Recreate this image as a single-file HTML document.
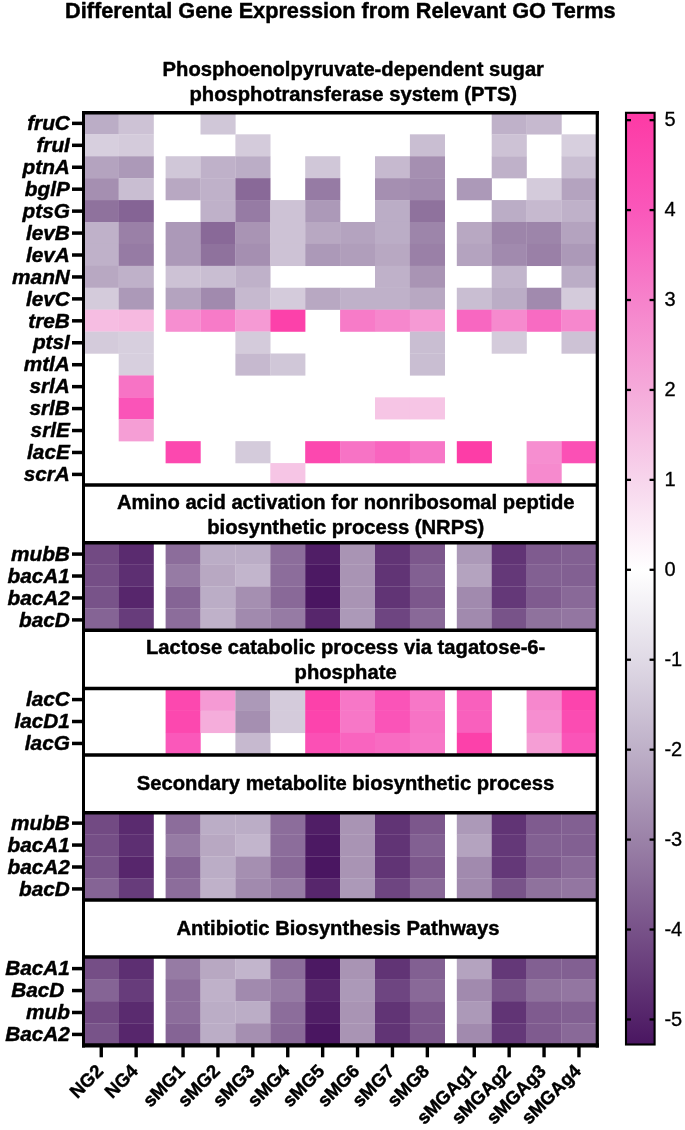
<!DOCTYPE html>
<html><head><meta charset="utf-8"><title>Differental Gene Expression from Relevant GO Terms</title>
<style>html,body{margin:0;padding:0;background:#fff;}svg{display:block;will-change:transform;}text{font-family:"Liberation Sans",Arial,sans-serif;fill:#000;}text.n{stroke:#000;stroke-width:0.3px;}text.b{stroke:#000;stroke-width:0.45px;stroke-linejoin:round;}</style></head><body>
<svg width="685" height="1130" viewBox="0 0 685 1130">
<rect x="0" y="0" width="685" height="1130" fill="#fff"/>
<defs><linearGradient id="cb" x1="0" y1="0" x2="0" y2="1">
<stop offset="0.0009" stop-color="#fd3aa5"/>
<stop offset="0.1042" stop-color="#fa57ba"/>
<stop offset="0.2007" stop-color="#f682cb"/>
<stop offset="0.2972" stop-color="#f5aada"/>
<stop offset="0.3938" stop-color="#f7d5ec"/>
<stop offset="0.4903" stop-color="#ffffff"/>
<stop offset="0.5868" stop-color="#e0dae6"/>
<stop offset="0.6833" stop-color="#beb0c8"/>
<stop offset="0.7799" stop-color="#9b82a8"/>
<stop offset="0.8764" stop-color="#785289"/>
<stop offset="0.9990" stop-color="#4a1661"/>
</linearGradient></defs>
<text x="340.3" y="17.7" font-size="21.7" class="b" font-weight="bold" text-anchor="middle">Differental Gene Expression from Relevant GO Terms</text>
<g>
<rect x="83.80" y="112.40" width="35.10" height="22.12" fill="#bbadc6"/>
<rect x="118.70" y="112.40" width="35.10" height="22.12" fill="#cdc2d5"/>
<rect x="200.50" y="112.40" width="35.10" height="22.12" fill="#d0c7d8"/>
<rect x="491.70" y="112.40" width="35.10" height="22.12" fill="#bfb1c9"/>
<rect x="526.60" y="112.40" width="35.10" height="22.12" fill="#c6b9cf"/>
<rect x="83.80" y="134.32" width="35.10" height="22.12" fill="#d7cfde"/>
<rect x="118.70" y="134.32" width="35.10" height="22.12" fill="#d4cbdb"/>
<rect x="235.40" y="134.32" width="35.10" height="22.12" fill="#d4cbdb"/>
<rect x="409.90" y="134.32" width="35.10" height="22.12" fill="#c9bed2"/>
<rect x="491.70" y="134.32" width="35.10" height="22.12" fill="#cdc2d5"/>
<rect x="561.50" y="134.32" width="35.10" height="22.12" fill="#d7cfde"/>
<rect x="83.80" y="156.24" width="35.10" height="22.12" fill="#b4a3bf"/>
<rect x="118.70" y="156.24" width="35.10" height="22.12" fill="#ac99b8"/>
<rect x="165.60" y="156.24" width="35.10" height="22.12" fill="#d0c7d8"/>
<rect x="200.50" y="156.24" width="35.10" height="22.12" fill="#bfb1c9"/>
<rect x="235.40" y="156.24" width="35.10" height="22.12" fill="#bbadc6"/>
<rect x="305.20" y="156.24" width="35.10" height="22.12" fill="#d0c7d8"/>
<rect x="375.00" y="156.24" width="35.10" height="22.12" fill="#c6b9cf"/>
<rect x="409.90" y="156.24" width="35.10" height="22.12" fill="#a58fb1"/>
<rect x="491.70" y="156.24" width="35.10" height="22.12" fill="#bfb1c9"/>
<rect x="561.50" y="156.24" width="35.10" height="22.12" fill="#c9bed2"/>
<rect x="83.80" y="178.15" width="35.10" height="22.12" fill="#a58fb1"/>
<rect x="118.70" y="178.15" width="35.10" height="22.12" fill="#c9bed2"/>
<rect x="165.60" y="178.15" width="35.10" height="22.12" fill="#b8a8c2"/>
<rect x="200.50" y="178.15" width="35.10" height="22.12" fill="#bfb1c9"/>
<rect x="235.40" y="178.15" width="35.10" height="22.12" fill="#896998"/>
<rect x="305.20" y="178.15" width="35.10" height="22.12" fill="#967ba4"/>
<rect x="375.00" y="178.15" width="35.10" height="22.12" fill="#a58fb1"/>
<rect x="409.90" y="178.15" width="35.10" height="22.12" fill="#a18aae"/>
<rect x="456.80" y="178.15" width="35.10" height="22.12" fill="#ac99b8"/>
<rect x="526.60" y="178.15" width="35.10" height="22.12" fill="#d4cbdb"/>
<rect x="561.50" y="178.15" width="35.10" height="22.12" fill="#b4a3bf"/>
<rect x="83.80" y="200.07" width="35.10" height="22.12" fill="#8f729d"/>
<rect x="118.70" y="200.07" width="35.10" height="22.12" fill="#856495"/>
<rect x="200.50" y="200.07" width="35.10" height="22.12" fill="#bfb1c9"/>
<rect x="235.40" y="200.07" width="35.10" height="22.12" fill="#967ba4"/>
<rect x="270.30" y="200.07" width="35.10" height="22.12" fill="#cdc2d5"/>
<rect x="305.20" y="200.07" width="35.10" height="22.12" fill="#ac99b8"/>
<rect x="375.00" y="200.07" width="35.10" height="22.12" fill="#bbadc6"/>
<rect x="409.90" y="200.07" width="35.10" height="22.12" fill="#8f729d"/>
<rect x="491.70" y="200.07" width="35.10" height="22.12" fill="#bbadc6"/>
<rect x="526.60" y="200.07" width="35.10" height="22.12" fill="#c6b9cf"/>
<rect x="561.50" y="200.07" width="35.10" height="22.12" fill="#bfb1c9"/>
<rect x="83.80" y="221.99" width="35.10" height="22.12" fill="#bfb1c9"/>
<rect x="118.70" y="221.99" width="35.10" height="22.12" fill="#9a80a7"/>
<rect x="165.60" y="221.99" width="35.10" height="22.12" fill="#ac99b8"/>
<rect x="200.50" y="221.99" width="35.10" height="22.12" fill="#896998"/>
<rect x="235.40" y="221.99" width="35.10" height="22.12" fill="#a994b4"/>
<rect x="270.30" y="221.99" width="35.10" height="22.12" fill="#cdc2d5"/>
<rect x="305.20" y="221.99" width="35.10" height="22.12" fill="#b8a8c2"/>
<rect x="340.10" y="221.99" width="35.10" height="22.12" fill="#b4a3bf"/>
<rect x="375.00" y="221.99" width="35.10" height="22.12" fill="#bbadc6"/>
<rect x="409.90" y="221.99" width="35.10" height="22.12" fill="#9d85aa"/>
<rect x="456.80" y="221.99" width="35.10" height="22.12" fill="#b8a8c2"/>
<rect x="491.70" y="221.99" width="35.10" height="22.12" fill="#9d85aa"/>
<rect x="526.60" y="221.99" width="35.10" height="22.12" fill="#9d85aa"/>
<rect x="561.50" y="221.99" width="35.10" height="22.12" fill="#b4a3bf"/>
<rect x="83.80" y="243.91" width="35.10" height="22.12" fill="#bfb1c9"/>
<rect x="118.70" y="243.91" width="35.10" height="22.12" fill="#967ba4"/>
<rect x="165.60" y="243.91" width="35.10" height="22.12" fill="#ac99b8"/>
<rect x="200.50" y="243.91" width="35.10" height="22.12" fill="#8f729d"/>
<rect x="235.40" y="243.91" width="35.10" height="22.12" fill="#a58fb1"/>
<rect x="270.30" y="243.91" width="35.10" height="22.12" fill="#cdc2d5"/>
<rect x="305.20" y="243.91" width="35.10" height="22.12" fill="#ac99b8"/>
<rect x="340.10" y="243.91" width="35.10" height="22.12" fill="#b09ebb"/>
<rect x="375.00" y="243.91" width="35.10" height="22.12" fill="#b8a8c2"/>
<rect x="409.90" y="243.91" width="35.10" height="22.12" fill="#9a80a7"/>
<rect x="456.80" y="243.91" width="35.10" height="22.12" fill="#b4a3bf"/>
<rect x="491.70" y="243.91" width="35.10" height="22.12" fill="#a18aae"/>
<rect x="526.60" y="243.91" width="35.10" height="22.12" fill="#9a80a7"/>
<rect x="561.50" y="243.91" width="35.10" height="22.12" fill="#ac99b8"/>
<rect x="83.80" y="265.82" width="35.10" height="22.12" fill="#b8a8c2"/>
<rect x="118.70" y="265.82" width="35.10" height="22.12" fill="#bfb1c9"/>
<rect x="165.60" y="265.82" width="35.10" height="22.12" fill="#cdc2d5"/>
<rect x="200.50" y="265.82" width="35.10" height="22.12" fill="#c9bed2"/>
<rect x="235.40" y="265.82" width="35.10" height="22.12" fill="#bfb1c9"/>
<rect x="375.00" y="265.82" width="35.10" height="22.12" fill="#bfb1c9"/>
<rect x="409.90" y="265.82" width="35.10" height="22.12" fill="#a994b4"/>
<rect x="491.70" y="265.82" width="35.10" height="22.12" fill="#c2b5cc"/>
<rect x="561.50" y="265.82" width="35.10" height="22.12" fill="#bbadc6"/>
<rect x="83.80" y="287.74" width="35.10" height="22.12" fill="#d4cbdb"/>
<rect x="118.70" y="287.74" width="35.10" height="22.12" fill="#ac99b8"/>
<rect x="165.60" y="287.74" width="35.10" height="22.12" fill="#b4a3bf"/>
<rect x="200.50" y="287.74" width="35.10" height="22.12" fill="#a18aae"/>
<rect x="235.40" y="287.74" width="35.10" height="22.12" fill="#c6b9cf"/>
<rect x="270.30" y="287.74" width="35.10" height="22.12" fill="#d4cbdb"/>
<rect x="305.20" y="287.74" width="35.10" height="22.12" fill="#b8a8c2"/>
<rect x="340.10" y="287.74" width="35.10" height="22.12" fill="#bfb1c9"/>
<rect x="375.00" y="287.74" width="35.10" height="22.12" fill="#bfb1c9"/>
<rect x="409.90" y="287.74" width="35.10" height="22.12" fill="#b8a8c2"/>
<rect x="456.80" y="287.74" width="35.10" height="22.12" fill="#c9bed2"/>
<rect x="491.70" y="287.74" width="35.10" height="22.12" fill="#bbadc6"/>
<rect x="526.60" y="287.74" width="35.10" height="22.12" fill="#a18aae"/>
<rect x="561.50" y="287.74" width="35.10" height="22.12" fill="#d4cbdb"/>
<rect x="83.80" y="309.66" width="35.10" height="22.12" fill="#f6bde2"/>
<rect x="118.70" y="309.66" width="35.10" height="22.12" fill="#f6b9e0"/>
<rect x="165.60" y="309.66" width="35.10" height="22.12" fill="#f68ed0"/>
<rect x="200.50" y="309.66" width="35.10" height="22.12" fill="#f77bc8"/>
<rect x="235.40" y="309.66" width="35.10" height="22.12" fill="#f59ad4"/>
<rect x="270.30" y="309.66" width="35.10" height="22.12" fill="#fc41aa"/>
<rect x="340.10" y="309.66" width="35.10" height="22.12" fill="#f77bc8"/>
<rect x="375.00" y="309.66" width="35.10" height="22.12" fill="#f687cd"/>
<rect x="409.90" y="309.66" width="35.10" height="22.12" fill="#f59ad4"/>
<rect x="456.80" y="309.66" width="35.10" height="22.12" fill="#f867c1"/>
<rect x="491.70" y="309.66" width="35.10" height="22.12" fill="#f68ace"/>
<rect x="526.60" y="309.66" width="35.10" height="22.12" fill="#f86bc2"/>
<rect x="561.50" y="309.66" width="35.10" height="22.12" fill="#f687cd"/>
<rect x="83.80" y="331.58" width="35.10" height="22.12" fill="#d4cbdb"/>
<rect x="118.70" y="331.58" width="35.10" height="22.12" fill="#d7cfde"/>
<rect x="235.40" y="331.58" width="35.10" height="22.12" fill="#d4cbdb"/>
<rect x="409.90" y="331.58" width="35.10" height="22.12" fill="#c9bed2"/>
<rect x="491.70" y="331.58" width="35.10" height="22.12" fill="#d4cbdb"/>
<rect x="561.50" y="331.58" width="35.10" height="22.12" fill="#cdc2d5"/>
<rect x="118.70" y="353.49" width="35.10" height="22.12" fill="#d7cfde"/>
<rect x="235.40" y="353.49" width="35.10" height="22.12" fill="#c6b9cf"/>
<rect x="270.30" y="353.49" width="35.10" height="22.12" fill="#d0c7d8"/>
<rect x="409.90" y="353.49" width="35.10" height="22.12" fill="#c9bed2"/>
<rect x="118.70" y="375.41" width="35.10" height="22.12" fill="#f773c5"/>
<rect x="118.70" y="397.33" width="35.10" height="22.12" fill="#fa54b8"/>
<rect x="375.00" y="397.33" width="35.10" height="22.12" fill="#f6c5e5"/>
<rect x="409.90" y="397.33" width="35.10" height="22.12" fill="#f6c5e5"/>
<rect x="118.70" y="419.25" width="35.10" height="22.12" fill="#f59ed5"/>
<rect x="165.60" y="441.16" width="35.10" height="22.12" fill="#fc48af"/>
<rect x="235.40" y="441.16" width="35.10" height="22.12" fill="#d4cbdb"/>
<rect x="305.20" y="441.16" width="35.10" height="22.12" fill="#fc48af"/>
<rect x="340.10" y="441.16" width="35.10" height="22.12" fill="#f773c5"/>
<rect x="375.00" y="441.16" width="35.10" height="22.12" fill="#f964bf"/>
<rect x="409.90" y="441.16" width="35.10" height="22.12" fill="#f777c7"/>
<rect x="456.80" y="441.16" width="35.10" height="22.12" fill="#fd3da7"/>
<rect x="526.60" y="441.16" width="35.10" height="22.12" fill="#f68ed0"/>
<rect x="561.50" y="441.16" width="35.10" height="22.12" fill="#fb50b5"/>
<rect x="270.30" y="463.08" width="35.10" height="22.12" fill="#f6c5e5"/>
<rect x="526.60" y="463.08" width="35.10" height="22.12" fill="#f68ace"/>
<rect x="83.80" y="542.70" width="35.10" height="22.10" fill="#724a83"/>
<rect x="118.70" y="542.70" width="35.10" height="22.10" fill="#5a2b6f"/>
<rect x="165.60" y="542.70" width="35.10" height="22.10" fill="#8c6d9b"/>
<rect x="200.50" y="542.70" width="35.10" height="22.10" fill="#bbadc6"/>
<rect x="235.40" y="542.70" width="35.10" height="22.10" fill="#bbadc6"/>
<rect x="270.30" y="542.70" width="35.10" height="22.10" fill="#8c6d9b"/>
<rect x="305.20" y="542.70" width="35.10" height="22.10" fill="#501e66"/>
<rect x="340.10" y="542.70" width="35.10" height="22.10" fill="#a994b4"/>
<rect x="375.00" y="542.70" width="35.10" height="22.10" fill="#613475"/>
<rect x="409.90" y="542.70" width="35.10" height="22.10" fill="#7c578c"/>
<rect x="456.80" y="542.70" width="35.10" height="22.10" fill="#ac99b8"/>
<rect x="491.70" y="542.70" width="35.10" height="22.10" fill="#613475"/>
<rect x="526.60" y="542.70" width="35.10" height="22.10" fill="#7f5b8f"/>
<rect x="561.50" y="542.70" width="35.10" height="22.10" fill="#826092"/>
<rect x="83.80" y="564.60" width="35.10" height="22.10" fill="#754e86"/>
<rect x="118.70" y="564.60" width="35.10" height="22.10" fill="#5d2f72"/>
<rect x="165.60" y="564.60" width="35.10" height="22.10" fill="#967ba4"/>
<rect x="200.50" y="564.60" width="35.10" height="22.10" fill="#b8a8c2"/>
<rect x="235.40" y="564.60" width="35.10" height="22.10" fill="#c2b5cc"/>
<rect x="270.30" y="564.60" width="35.10" height="22.10" fill="#8c6d9b"/>
<rect x="305.20" y="564.60" width="35.10" height="22.10" fill="#4c1963"/>
<rect x="340.10" y="564.60" width="35.10" height="22.10" fill="#a994b4"/>
<rect x="375.00" y="564.60" width="35.10" height="22.10" fill="#613475"/>
<rect x="409.90" y="564.60" width="35.10" height="22.10" fill="#826092"/>
<rect x="456.80" y="564.60" width="35.10" height="22.10" fill="#b4a3bf"/>
<rect x="491.70" y="564.60" width="35.10" height="22.10" fill="#643878"/>
<rect x="526.60" y="564.60" width="35.10" height="22.10" fill="#826092"/>
<rect x="561.50" y="564.60" width="35.10" height="22.10" fill="#826092"/>
<rect x="83.80" y="586.50" width="35.10" height="22.10" fill="#785389"/>
<rect x="118.70" y="586.50" width="35.10" height="22.10" fill="#57266c"/>
<rect x="165.60" y="586.50" width="35.10" height="22.10" fill="#856495"/>
<rect x="200.50" y="586.50" width="35.10" height="22.10" fill="#bbadc6"/>
<rect x="235.40" y="586.50" width="35.10" height="22.10" fill="#a58fb1"/>
<rect x="270.30" y="586.50" width="35.10" height="22.10" fill="#896998"/>
<rect x="305.20" y="586.50" width="35.10" height="22.10" fill="#4a1661"/>
<rect x="340.10" y="586.50" width="35.10" height="22.10" fill="#a994b4"/>
<rect x="375.00" y="586.50" width="35.10" height="22.10" fill="#613475"/>
<rect x="409.90" y="586.50" width="35.10" height="22.10" fill="#7c578c"/>
<rect x="456.80" y="586.50" width="35.10" height="22.10" fill="#a18aae"/>
<rect x="491.70" y="586.50" width="35.10" height="22.10" fill="#643878"/>
<rect x="526.60" y="586.50" width="35.10" height="22.10" fill="#7f5b8f"/>
<rect x="561.50" y="586.50" width="35.10" height="22.10" fill="#896998"/>
<rect x="83.80" y="608.40" width="35.10" height="22.10" fill="#856495"/>
<rect x="118.70" y="608.40" width="35.10" height="22.10" fill="#673c7b"/>
<rect x="165.60" y="608.40" width="35.10" height="22.10" fill="#8c6d9b"/>
<rect x="200.50" y="608.40" width="35.10" height="22.10" fill="#bfb1c9"/>
<rect x="235.40" y="608.40" width="35.10" height="22.10" fill="#a18aae"/>
<rect x="270.30" y="608.40" width="35.10" height="22.10" fill="#967ba4"/>
<rect x="305.20" y="608.40" width="35.10" height="22.10" fill="#57266c"/>
<rect x="340.10" y="608.40" width="35.10" height="22.10" fill="#ac99b8"/>
<rect x="375.00" y="608.40" width="35.10" height="22.10" fill="#6e4581"/>
<rect x="409.90" y="608.40" width="35.10" height="22.10" fill="#896998"/>
<rect x="456.80" y="608.40" width="35.10" height="22.10" fill="#a18aae"/>
<rect x="491.70" y="608.40" width="35.10" height="22.10" fill="#785389"/>
<rect x="526.60" y="608.40" width="35.10" height="22.10" fill="#8f729d"/>
<rect x="561.50" y="608.40" width="35.10" height="22.10" fill="#9376a1"/>
<rect x="165.60" y="688.60" width="35.10" height="22.33" fill="#fc48af"/>
<rect x="200.50" y="688.60" width="35.10" height="22.33" fill="#f59ad4"/>
<rect x="235.40" y="688.60" width="35.10" height="22.33" fill="#ac99b8"/>
<rect x="270.30" y="688.60" width="35.10" height="22.33" fill="#d4cbdb"/>
<rect x="305.20" y="688.60" width="35.10" height="22.33" fill="#fc41aa"/>
<rect x="340.10" y="688.60" width="35.10" height="22.33" fill="#f777c7"/>
<rect x="375.00" y="688.60" width="35.10" height="22.33" fill="#fa54b8"/>
<rect x="409.90" y="688.60" width="35.10" height="22.33" fill="#f777c7"/>
<rect x="456.80" y="688.60" width="35.10" height="22.33" fill="#f960bd"/>
<rect x="526.60" y="688.60" width="35.10" height="22.33" fill="#f687cd"/>
<rect x="561.50" y="688.60" width="35.10" height="22.33" fill="#fc44ad"/>
<rect x="165.60" y="710.73" width="35.10" height="22.33" fill="#fc48af"/>
<rect x="200.50" y="710.73" width="35.10" height="22.33" fill="#f5addb"/>
<rect x="235.40" y="710.73" width="35.10" height="22.33" fill="#a58fb1"/>
<rect x="270.30" y="710.73" width="35.10" height="22.33" fill="#d4cbdb"/>
<rect x="305.20" y="710.73" width="35.10" height="22.33" fill="#fc44ad"/>
<rect x="340.10" y="710.73" width="35.10" height="22.33" fill="#f777c7"/>
<rect x="375.00" y="710.73" width="35.10" height="22.33" fill="#fa54b8"/>
<rect x="409.90" y="710.73" width="35.10" height="22.33" fill="#f773c5"/>
<rect x="456.80" y="710.73" width="35.10" height="22.33" fill="#f960bd"/>
<rect x="526.60" y="710.73" width="35.10" height="22.33" fill="#f68ed0"/>
<rect x="561.50" y="710.73" width="35.10" height="22.33" fill="#fb4cb2"/>
<rect x="165.60" y="732.87" width="35.10" height="22.33" fill="#fa58ba"/>
<rect x="235.40" y="732.87" width="35.10" height="22.33" fill="#c6b9cf"/>
<rect x="305.20" y="732.87" width="35.10" height="22.33" fill="#fb50b5"/>
<rect x="340.10" y="732.87" width="35.10" height="22.33" fill="#f964bf"/>
<rect x="375.00" y="732.87" width="35.10" height="22.33" fill="#f86bc2"/>
<rect x="409.90" y="732.87" width="35.10" height="22.33" fill="#f777c7"/>
<rect x="456.80" y="732.87" width="35.10" height="22.33" fill="#fc41aa"/>
<rect x="526.60" y="732.87" width="35.10" height="22.33" fill="#f59ed5"/>
<rect x="561.50" y="732.87" width="35.10" height="22.33" fill="#fa54b8"/>
<rect x="83.80" y="812.80" width="35.10" height="22.00" fill="#724a83"/>
<rect x="118.70" y="812.80" width="35.10" height="22.00" fill="#5a2b6f"/>
<rect x="165.60" y="812.80" width="35.10" height="22.00" fill="#8c6d9b"/>
<rect x="200.50" y="812.80" width="35.10" height="22.00" fill="#bbadc6"/>
<rect x="235.40" y="812.80" width="35.10" height="22.00" fill="#bbadc6"/>
<rect x="270.30" y="812.80" width="35.10" height="22.00" fill="#8c6d9b"/>
<rect x="305.20" y="812.80" width="35.10" height="22.00" fill="#501e66"/>
<rect x="340.10" y="812.80" width="35.10" height="22.00" fill="#a994b4"/>
<rect x="375.00" y="812.80" width="35.10" height="22.00" fill="#613475"/>
<rect x="409.90" y="812.80" width="35.10" height="22.00" fill="#7c578c"/>
<rect x="456.80" y="812.80" width="35.10" height="22.00" fill="#ac99b8"/>
<rect x="491.70" y="812.80" width="35.10" height="22.00" fill="#613475"/>
<rect x="526.60" y="812.80" width="35.10" height="22.00" fill="#7f5b8f"/>
<rect x="561.50" y="812.80" width="35.10" height="22.00" fill="#826092"/>
<rect x="83.80" y="834.60" width="35.10" height="22.00" fill="#754e86"/>
<rect x="118.70" y="834.60" width="35.10" height="22.00" fill="#5d2f72"/>
<rect x="165.60" y="834.60" width="35.10" height="22.00" fill="#967ba4"/>
<rect x="200.50" y="834.60" width="35.10" height="22.00" fill="#b8a8c2"/>
<rect x="235.40" y="834.60" width="35.10" height="22.00" fill="#c2b5cc"/>
<rect x="270.30" y="834.60" width="35.10" height="22.00" fill="#8c6d9b"/>
<rect x="305.20" y="834.60" width="35.10" height="22.00" fill="#4c1963"/>
<rect x="340.10" y="834.60" width="35.10" height="22.00" fill="#a994b4"/>
<rect x="375.00" y="834.60" width="35.10" height="22.00" fill="#613475"/>
<rect x="409.90" y="834.60" width="35.10" height="22.00" fill="#826092"/>
<rect x="456.80" y="834.60" width="35.10" height="22.00" fill="#b4a3bf"/>
<rect x="491.70" y="834.60" width="35.10" height="22.00" fill="#643878"/>
<rect x="526.60" y="834.60" width="35.10" height="22.00" fill="#826092"/>
<rect x="561.50" y="834.60" width="35.10" height="22.00" fill="#826092"/>
<rect x="83.80" y="856.40" width="35.10" height="22.00" fill="#785389"/>
<rect x="118.70" y="856.40" width="35.10" height="22.00" fill="#57266c"/>
<rect x="165.60" y="856.40" width="35.10" height="22.00" fill="#856495"/>
<rect x="200.50" y="856.40" width="35.10" height="22.00" fill="#bbadc6"/>
<rect x="235.40" y="856.40" width="35.10" height="22.00" fill="#a58fb1"/>
<rect x="270.30" y="856.40" width="35.10" height="22.00" fill="#896998"/>
<rect x="305.20" y="856.40" width="35.10" height="22.00" fill="#4a1661"/>
<rect x="340.10" y="856.40" width="35.10" height="22.00" fill="#a994b4"/>
<rect x="375.00" y="856.40" width="35.10" height="22.00" fill="#613475"/>
<rect x="409.90" y="856.40" width="35.10" height="22.00" fill="#7c578c"/>
<rect x="456.80" y="856.40" width="35.10" height="22.00" fill="#a18aae"/>
<rect x="491.70" y="856.40" width="35.10" height="22.00" fill="#643878"/>
<rect x="526.60" y="856.40" width="35.10" height="22.00" fill="#7f5b8f"/>
<rect x="561.50" y="856.40" width="35.10" height="22.00" fill="#896998"/>
<rect x="83.80" y="878.20" width="35.10" height="22.00" fill="#856495"/>
<rect x="118.70" y="878.20" width="35.10" height="22.00" fill="#673c7b"/>
<rect x="165.60" y="878.20" width="35.10" height="22.00" fill="#8c6d9b"/>
<rect x="200.50" y="878.20" width="35.10" height="22.00" fill="#bfb1c9"/>
<rect x="235.40" y="878.20" width="35.10" height="22.00" fill="#a18aae"/>
<rect x="270.30" y="878.20" width="35.10" height="22.00" fill="#967ba4"/>
<rect x="305.20" y="878.20" width="35.10" height="22.00" fill="#57266c"/>
<rect x="340.10" y="878.20" width="35.10" height="22.00" fill="#ac99b8"/>
<rect x="375.00" y="878.20" width="35.10" height="22.00" fill="#6e4581"/>
<rect x="409.90" y="878.20" width="35.10" height="22.00" fill="#896998"/>
<rect x="456.80" y="878.20" width="35.10" height="22.00" fill="#a18aae"/>
<rect x="491.70" y="878.20" width="35.10" height="22.00" fill="#785389"/>
<rect x="526.60" y="878.20" width="35.10" height="22.00" fill="#8f729d"/>
<rect x="561.50" y="878.20" width="35.10" height="22.00" fill="#9376a1"/>
<rect x="83.80" y="957.00" width="35.10" height="22.27" fill="#754e86"/>
<rect x="118.70" y="957.00" width="35.10" height="22.27" fill="#5d2f72"/>
<rect x="165.60" y="957.00" width="35.10" height="22.27" fill="#967ba4"/>
<rect x="200.50" y="957.00" width="35.10" height="22.27" fill="#b8a8c2"/>
<rect x="235.40" y="957.00" width="35.10" height="22.27" fill="#c2b5cc"/>
<rect x="270.30" y="957.00" width="35.10" height="22.27" fill="#8c6d9b"/>
<rect x="305.20" y="957.00" width="35.10" height="22.27" fill="#4c1963"/>
<rect x="340.10" y="957.00" width="35.10" height="22.27" fill="#a994b4"/>
<rect x="375.00" y="957.00" width="35.10" height="22.27" fill="#613475"/>
<rect x="409.90" y="957.00" width="35.10" height="22.27" fill="#826092"/>
<rect x="456.80" y="957.00" width="35.10" height="22.27" fill="#b4a3bf"/>
<rect x="491.70" y="957.00" width="35.10" height="22.27" fill="#643878"/>
<rect x="526.60" y="957.00" width="35.10" height="22.27" fill="#826092"/>
<rect x="561.50" y="957.00" width="35.10" height="22.27" fill="#826092"/>
<rect x="83.80" y="979.08" width="35.10" height="22.27" fill="#856495"/>
<rect x="118.70" y="979.08" width="35.10" height="22.27" fill="#673c7b"/>
<rect x="165.60" y="979.08" width="35.10" height="22.27" fill="#8c6d9b"/>
<rect x="200.50" y="979.08" width="35.10" height="22.27" fill="#bfb1c9"/>
<rect x="235.40" y="979.08" width="35.10" height="22.27" fill="#a18aae"/>
<rect x="270.30" y="979.08" width="35.10" height="22.27" fill="#967ba4"/>
<rect x="305.20" y="979.08" width="35.10" height="22.27" fill="#57266c"/>
<rect x="340.10" y="979.08" width="35.10" height="22.27" fill="#ac99b8"/>
<rect x="375.00" y="979.08" width="35.10" height="22.27" fill="#6e4581"/>
<rect x="409.90" y="979.08" width="35.10" height="22.27" fill="#896998"/>
<rect x="456.80" y="979.08" width="35.10" height="22.27" fill="#a18aae"/>
<rect x="491.70" y="979.08" width="35.10" height="22.27" fill="#785389"/>
<rect x="526.60" y="979.08" width="35.10" height="22.27" fill="#8f729d"/>
<rect x="561.50" y="979.08" width="35.10" height="22.27" fill="#9376a1"/>
<rect x="83.80" y="1001.15" width="35.10" height="22.27" fill="#724a83"/>
<rect x="118.70" y="1001.15" width="35.10" height="22.27" fill="#5a2b6f"/>
<rect x="165.60" y="1001.15" width="35.10" height="22.27" fill="#8c6d9b"/>
<rect x="200.50" y="1001.15" width="35.10" height="22.27" fill="#bbadc6"/>
<rect x="235.40" y="1001.15" width="35.10" height="22.27" fill="#bbadc6"/>
<rect x="270.30" y="1001.15" width="35.10" height="22.27" fill="#8c6d9b"/>
<rect x="305.20" y="1001.15" width="35.10" height="22.27" fill="#501e66"/>
<rect x="340.10" y="1001.15" width="35.10" height="22.27" fill="#a994b4"/>
<rect x="375.00" y="1001.15" width="35.10" height="22.27" fill="#613475"/>
<rect x="409.90" y="1001.15" width="35.10" height="22.27" fill="#7c578c"/>
<rect x="456.80" y="1001.15" width="35.10" height="22.27" fill="#ac99b8"/>
<rect x="491.70" y="1001.15" width="35.10" height="22.27" fill="#613475"/>
<rect x="526.60" y="1001.15" width="35.10" height="22.27" fill="#7f5b8f"/>
<rect x="561.50" y="1001.15" width="35.10" height="22.27" fill="#826092"/>
<rect x="83.80" y="1023.23" width="35.10" height="22.27" fill="#785389"/>
<rect x="118.70" y="1023.23" width="35.10" height="22.27" fill="#57266c"/>
<rect x="165.60" y="1023.23" width="35.10" height="22.27" fill="#856495"/>
<rect x="200.50" y="1023.23" width="35.10" height="22.27" fill="#bbadc6"/>
<rect x="235.40" y="1023.23" width="35.10" height="22.27" fill="#a58fb1"/>
<rect x="270.30" y="1023.23" width="35.10" height="22.27" fill="#896998"/>
<rect x="305.20" y="1023.23" width="35.10" height="22.27" fill="#4a1661"/>
<rect x="340.10" y="1023.23" width="35.10" height="22.27" fill="#a994b4"/>
<rect x="375.00" y="1023.23" width="35.10" height="22.27" fill="#613475"/>
<rect x="409.90" y="1023.23" width="35.10" height="22.27" fill="#7c578c"/>
<rect x="456.80" y="1023.23" width="35.10" height="22.27" fill="#a18aae"/>
<rect x="491.70" y="1023.23" width="35.10" height="22.27" fill="#643878"/>
<rect x="526.60" y="1023.23" width="35.10" height="22.27" fill="#7f5b8f"/>
<rect x="561.50" y="1023.23" width="35.10" height="22.27" fill="#896998"/>
</g>
<g stroke="#000" stroke-width="3.5" fill="none">
<line x1="83.50" x2="83.50" y1="111.00" y2="1047.40" stroke-width="3"/>
<line x1="597.30" x2="597.30" y1="111.00" y2="1047.40" stroke-width="3.2"/>
<line x1="82.00" x2="598.90" y1="112.70" y2="112.70" stroke-width="3.6"/>
<line x1="82.00" x2="598.90" y1="1045.35" y2="1045.35" stroke-width="4.2"/>
<line x1="83.80" x2="596.40" y1="485.00" y2="485.00"/>
<line x1="83.80" x2="596.40" y1="542.70" y2="542.70"/>
<line x1="83.80" x2="596.40" y1="630.30" y2="630.30"/>
<line x1="83.80" x2="596.40" y1="688.60" y2="688.60"/>
<line x1="83.80" x2="596.40" y1="755.00" y2="755.00"/>
<line x1="83.80" x2="596.40" y1="812.80" y2="812.80"/>
<line x1="83.80" x2="596.40" y1="900.00" y2="900.00"/>
<line x1="83.80" x2="596.40" y1="957.00" y2="957.00"/>
<line x1="72" x2="83.80" y1="123.37" y2="123.37"/>
<line x1="72" x2="83.80" y1="145.31" y2="145.31"/>
<line x1="72" x2="83.80" y1="167.25" y2="167.25"/>
<line x1="72" x2="83.80" y1="189.19" y2="189.19"/>
<line x1="72" x2="83.80" y1="211.13" y2="211.13"/>
<line x1="72" x2="83.80" y1="233.07" y2="233.07"/>
<line x1="72" x2="83.80" y1="255.01" y2="255.01"/>
<line x1="72" x2="83.80" y1="276.95" y2="276.95"/>
<line x1="72" x2="83.80" y1="298.89" y2="298.89"/>
<line x1="72" x2="83.80" y1="320.83" y2="320.83"/>
<line x1="72" x2="83.80" y1="342.77" y2="342.77"/>
<line x1="72" x2="83.80" y1="364.71" y2="364.71"/>
<line x1="72" x2="83.80" y1="386.65" y2="386.65"/>
<line x1="72" x2="83.80" y1="408.59" y2="408.59"/>
<line x1="72" x2="83.80" y1="430.53" y2="430.53"/>
<line x1="72" x2="83.80" y1="452.47" y2="452.47"/>
<line x1="72" x2="83.80" y1="474.41" y2="474.41"/>
<line x1="72" x2="83.80" y1="554.08" y2="554.08"/>
<line x1="72" x2="83.80" y1="576.02" y2="576.02"/>
<line x1="72" x2="83.80" y1="597.96" y2="597.96"/>
<line x1="72" x2="83.80" y1="619.90" y2="619.90"/>
<line x1="72" x2="83.80" y1="699.57" y2="699.57"/>
<line x1="72" x2="83.80" y1="721.51" y2="721.51"/>
<line x1="72" x2="83.80" y1="743.45" y2="743.45"/>
<line x1="72" x2="83.80" y1="823.12" y2="823.12"/>
<line x1="72" x2="83.80" y1="845.06" y2="845.06"/>
<line x1="72" x2="83.80" y1="867.00" y2="867.00"/>
<line x1="72" x2="83.80" y1="888.94" y2="888.94"/>
<line x1="72" x2="83.80" y1="968.61" y2="968.61"/>
<line x1="72" x2="83.80" y1="990.55" y2="990.55"/>
<line x1="72" x2="83.80" y1="1012.49" y2="1012.49"/>
<line x1="72" x2="83.80" y1="1034.43" y2="1034.43"/>
<line x1="101.25" x2="101.25" y1="1045.30" y2="1057.30" stroke-width="3.4"/>
<line x1="136.15" x2="136.15" y1="1045.30" y2="1057.30" stroke-width="3.4"/>
<line x1="183.05" x2="183.05" y1="1045.30" y2="1057.30" stroke-width="3.4"/>
<line x1="217.95" x2="217.95" y1="1045.30" y2="1057.30" stroke-width="3.4"/>
<line x1="252.85" x2="252.85" y1="1045.30" y2="1057.30" stroke-width="3.4"/>
<line x1="287.75" x2="287.75" y1="1045.30" y2="1057.30" stroke-width="3.4"/>
<line x1="322.65" x2="322.65" y1="1045.30" y2="1057.30" stroke-width="3.4"/>
<line x1="357.55" x2="357.55" y1="1045.30" y2="1057.30" stroke-width="3.4"/>
<line x1="392.45" x2="392.45" y1="1045.30" y2="1057.30" stroke-width="3.4"/>
<line x1="427.35" x2="427.35" y1="1045.30" y2="1057.30" stroke-width="3.4"/>
<line x1="474.25" x2="474.25" y1="1045.30" y2="1057.30" stroke-width="3.4"/>
<line x1="509.15" x2="509.15" y1="1045.30" y2="1057.30" stroke-width="3.4"/>
<line x1="544.05" x2="544.05" y1="1045.30" y2="1057.30" stroke-width="3.4"/>
<line x1="578.95" x2="578.95" y1="1045.30" y2="1057.30" stroke-width="3.4"/>
</g>
<text x="353.3" y="75.8" font-size="20.2" class="b" font-weight="bold" text-anchor="middle">Phosphoenolpyruvate-dependent sugar</text>
<text x="353.3" y="100.8" font-size="20.2" class="b" font-weight="bold" text-anchor="middle">phosphotransferase system (PTS)</text>
<text x="345.8" y="508.9" font-size="20.2" class="b" font-weight="bold" text-anchor="middle">Amino acid activation for nonribosomal peptide</text>
<text x="345.8" y="533.9" font-size="20.2" class="b" font-weight="bold" text-anchor="middle">biosynthetic process (NRPS)</text>
<text x="345.6" y="653.8" font-size="20.2" class="b" font-weight="bold" text-anchor="middle">Lactose catabolic process via tagatose-6-</text>
<text x="345.6" y="678.8" font-size="20.2" class="b" font-weight="bold" text-anchor="middle">phosphate</text>
<text x="345.5" y="789.6" font-size="20.2" class="b" font-weight="bold" text-anchor="middle">Secondary metabolite biosynthetic process</text>
<text x="338.0" y="934.8" font-size="20.2" class="b" font-weight="bold" text-anchor="middle">Antibiotic Biosynthesis Pathways</text>
<text x="69.9" y="130.07" font-size="20.8" class="b" font-weight="bold" font-style="italic" text-anchor="end">fruC</text>
<text x="69.9" y="152.01" font-size="20.8" class="b" font-weight="bold" font-style="italic" text-anchor="end">fruI</text>
<text x="69.9" y="173.95" font-size="20.8" class="b" font-weight="bold" font-style="italic" text-anchor="end">ptnA</text>
<text x="69.9" y="195.89" font-size="20.8" class="b" font-weight="bold" font-style="italic" text-anchor="end">bglP</text>
<text x="69.9" y="217.83" font-size="20.8" class="b" font-weight="bold" font-style="italic" text-anchor="end">ptsG</text>
<text x="69.9" y="239.77" font-size="20.8" class="b" font-weight="bold" font-style="italic" text-anchor="end">levB</text>
<text x="69.9" y="261.71" font-size="20.8" class="b" font-weight="bold" font-style="italic" text-anchor="end">levA</text>
<text x="69.9" y="283.65" font-size="20.8" class="b" font-weight="bold" font-style="italic" text-anchor="end">manN</text>
<text x="69.9" y="305.59" font-size="20.8" class="b" font-weight="bold" font-style="italic" text-anchor="end">levC</text>
<text x="69.9" y="327.53" font-size="20.8" class="b" font-weight="bold" font-style="italic" text-anchor="end">treB</text>
<text x="69.9" y="349.47" font-size="20.8" class="b" font-weight="bold" font-style="italic" text-anchor="end">ptsI</text>
<text x="69.9" y="371.41" font-size="20.8" class="b" font-weight="bold" font-style="italic" text-anchor="end">mtlA</text>
<text x="69.9" y="393.35" font-size="20.8" class="b" font-weight="bold" font-style="italic" text-anchor="end">srlA</text>
<text x="69.9" y="415.29" font-size="20.8" class="b" font-weight="bold" font-style="italic" text-anchor="end">srlB</text>
<text x="69.9" y="437.23" font-size="20.8" class="b" font-weight="bold" font-style="italic" text-anchor="end">srlE</text>
<text x="69.9" y="459.17" font-size="20.8" class="b" font-weight="bold" font-style="italic" text-anchor="end">lacE</text>
<text x="69.9" y="481.11" font-size="20.8" class="b" font-weight="bold" font-style="italic" text-anchor="end">scrA</text>
<text x="69.9" y="560.78" font-size="20.8" class="b" font-weight="bold" font-style="italic" text-anchor="end">mubB</text>
<text x="69.9" y="582.72" font-size="20.8" class="b" font-weight="bold" font-style="italic" text-anchor="end">bacA1</text>
<text x="69.9" y="604.66" font-size="20.8" class="b" font-weight="bold" font-style="italic" text-anchor="end">bacA2</text>
<text x="69.9" y="626.60" font-size="20.8" class="b" font-weight="bold" font-style="italic" text-anchor="end">bacD</text>
<text x="69.9" y="706.27" font-size="20.8" class="b" font-weight="bold" font-style="italic" text-anchor="end">lacC</text>
<text x="69.9" y="728.21" font-size="20.8" class="b" font-weight="bold" font-style="italic" text-anchor="end">lacD1</text>
<text x="69.9" y="750.15" font-size="20.8" class="b" font-weight="bold" font-style="italic" text-anchor="end">lacG</text>
<text x="69.9" y="829.82" font-size="20.8" class="b" font-weight="bold" font-style="italic" text-anchor="end">mubB</text>
<text x="69.9" y="851.76" font-size="20.8" class="b" font-weight="bold" font-style="italic" text-anchor="end">bacA1</text>
<text x="69.9" y="873.70" font-size="20.8" class="b" font-weight="bold" font-style="italic" text-anchor="end">bacA2</text>
<text x="69.9" y="895.64" font-size="20.8" class="b" font-weight="bold" font-style="italic" text-anchor="end">bacD</text>
<text x="69.9" y="975.31" font-size="20.8" class="b" font-weight="bold" font-style="italic" text-anchor="end">BacA1</text>
<text x="64.4" y="997.25" font-size="20.8" class="b" font-weight="bold" font-style="italic" text-anchor="end">BacD</text>
<text x="69.9" y="1019.19" font-size="20.8" class="b" font-weight="bold" font-style="italic" text-anchor="end">mub</text>
<text x="69.9" y="1041.13" font-size="20.8" class="b" font-weight="bold" font-style="italic" text-anchor="end">BacA2</text>
<text transform="translate(104.25,1072.30) rotate(-45)" font-size="18.5" class="b" font-weight="bold" text-anchor="end">NG2</text>
<text transform="translate(139.15,1072.30) rotate(-45)" font-size="18.5" class="b" font-weight="bold" text-anchor="end">NG4</text>
<text transform="translate(186.05,1072.30) rotate(-45)" font-size="18.5" class="b" font-weight="bold" text-anchor="end">sMG1</text>
<text transform="translate(220.95,1072.30) rotate(-45)" font-size="18.5" class="b" font-weight="bold" text-anchor="end">sMG2</text>
<text transform="translate(255.85,1072.30) rotate(-45)" font-size="18.5" class="b" font-weight="bold" text-anchor="end">sMG3</text>
<text transform="translate(290.75,1072.30) rotate(-45)" font-size="18.5" class="b" font-weight="bold" text-anchor="end">sMG4</text>
<text transform="translate(325.65,1072.30) rotate(-45)" font-size="18.5" class="b" font-weight="bold" text-anchor="end">sMG5</text>
<text transform="translate(360.55,1072.30) rotate(-45)" font-size="18.5" class="b" font-weight="bold" text-anchor="end">sMG6</text>
<text transform="translate(395.45,1072.30) rotate(-45)" font-size="18.5" class="b" font-weight="bold" text-anchor="end">sMG7</text>
<text transform="translate(430.35,1072.30) rotate(-45)" font-size="18.5" class="b" font-weight="bold" text-anchor="end">sMG8</text>
<text transform="translate(477.25,1072.30) rotate(-45)" font-size="18.5" class="b" font-weight="bold" text-anchor="end">sMGAg1</text>
<text transform="translate(512.15,1072.30) rotate(-45)" font-size="18.5" class="b" font-weight="bold" text-anchor="end">sMGAg2</text>
<text transform="translate(547.05,1072.30) rotate(-45)" font-size="18.5" class="b" font-weight="bold" text-anchor="end">sMGAg3</text>
<text transform="translate(581.95,1072.30) rotate(-45)" font-size="18.5" class="b" font-weight="bold" text-anchor="end">sMGAg4</text>
<rect x="626" y="112.80" width="28.6" height="931.70" fill="url(#cb)" stroke="#000" stroke-width="2.1"/>
<g stroke="#000" stroke-width="2.3">
<line x1="626" x2="631" y1="1019.45" y2="1019.45"/><line x1="649.6" x2="654.6" y1="1019.45" y2="1019.45"/>
<line x1="626" x2="631" y1="929.52" y2="929.52"/><line x1="649.6" x2="654.6" y1="929.52" y2="929.52"/>
<line x1="626" x2="631" y1="839.59" y2="839.59"/><line x1="649.6" x2="654.6" y1="839.59" y2="839.59"/>
<line x1="626" x2="631" y1="749.66" y2="749.66"/><line x1="649.6" x2="654.6" y1="749.66" y2="749.66"/>
<line x1="626" x2="631" y1="659.73" y2="659.73"/><line x1="649.6" x2="654.6" y1="659.73" y2="659.73"/>
<line x1="626" x2="631" y1="569.80" y2="569.80"/><line x1="649.6" x2="654.6" y1="569.80" y2="569.80"/>
<line x1="626" x2="631" y1="479.87" y2="479.87"/><line x1="649.6" x2="654.6" y1="479.87" y2="479.87"/>
<line x1="626" x2="631" y1="389.94" y2="389.94"/><line x1="649.6" x2="654.6" y1="389.94" y2="389.94"/>
<line x1="626" x2="631" y1="300.01" y2="300.01"/><line x1="649.6" x2="654.6" y1="300.01" y2="300.01"/>
<line x1="626" x2="631" y1="210.08" y2="210.08"/><line x1="649.6" x2="654.6" y1="210.08" y2="210.08"/>
<line x1="626" x2="631" y1="120.15" y2="120.15"/><line x1="649.6" x2="654.6" y1="120.15" y2="120.15"/>
</g>
<text class="n" x="664.4" y="1025.65" font-size="20">-5</text>
<text class="n" x="664.4" y="935.72" font-size="20">-4</text>
<text class="n" x="664.4" y="845.79" font-size="20">-3</text>
<text class="n" x="664.4" y="755.86" font-size="20">-2</text>
<text class="n" x="664.4" y="665.93" font-size="20">-1</text>
<text class="n" x="664.4" y="576.00" font-size="20">0</text>
<text class="n" x="664.4" y="486.07" font-size="20">1</text>
<text class="n" x="664.4" y="396.14" font-size="20">2</text>
<text class="n" x="664.4" y="306.21" font-size="20">3</text>
<text class="n" x="664.4" y="216.28" font-size="20">4</text>
<text class="n" x="664.4" y="126.35" font-size="20">5</text>
</svg></body></html>
